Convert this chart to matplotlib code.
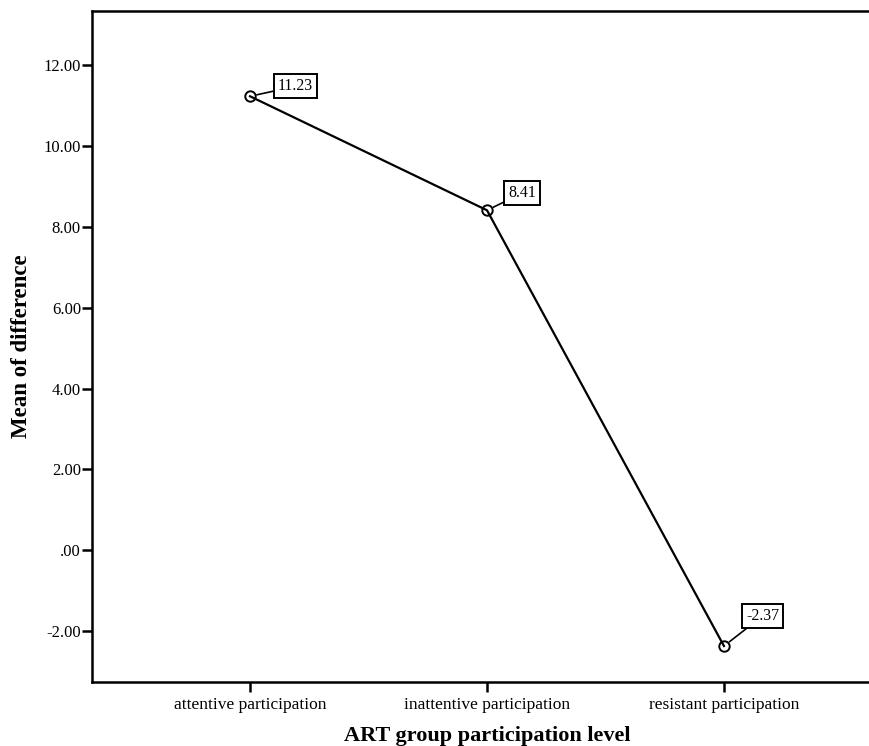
import matplotlib
matplotlib.use('Agg')
import matplotlib.pyplot as plt

levels = ['attentive participation', 'inattentive participation', 'resistant participation']
means = [11.23, 8.41, -2.37]
yticks = [-2, 0, 2, 4, 6, 8, 10, 12]
ytick_labels = ['-2.00', '.00', '2.00', '4.00', '6.00', '8.00', '10.00', '12.00']

plt.rcParams['font.family'] = ['Liberation Serif', 'DejaVu Serif']

W, H = 870, 746
fig = plt.figure(figsize=(W / 100, H / 100), dpi=100)
# axes box: left 92, top 11, bottom 682, right beyond the image (about 882)
ax = fig.add_axes([92 / W, 1 - 682 / H, (882 - 92) / W, (682 - 11) / H])

x = list(range(len(levels)))
ax.plot(x, means, color='black', lw=1.6, marker='o', ms=7.5, mfc='none', mec='black', mew=1.4)

# value labels in boxes, offsets in pixels from the marker
offsets = [(28, 10), (21, 17), (22, 30)]
for xi, m, off in zip(x, means, offsets):
    ax.annotate(f'{m:.2f}', xy=(xi, m), xytext=off, textcoords='offset pixels',
                ha='left', va='center', fontsize=11.5,
                bbox=dict(boxstyle='square,pad=0.25', fc='white', ec='black', lw=1.4),
                arrowprops=dict(arrowstyle='-', color='black', lw=1.2, shrinkA=0, shrinkB=5))

ax.set_xlim(-0.667, 2.667)
ax.set_ylim(-3.26, 13.34)
ax.set_xticks(x)
ax.set_xticklabels(levels, fontsize=12.5)
ax.set_yticks(yticks)
ax.set_yticklabels(ytick_labels, fontsize=12)
ax.tick_params(axis='both', direction='out', length=7, width=1.8, color='black')
ax.tick_params(axis='x', pad=4)
ax.tick_params(axis='y', pad=1)
for s in ax.spines.values():
    s.set_linewidth(1.8)

ax.set_xlabel('ART group participation level', fontsize=16, fontweight='bold', labelpad=9)
ax.set_ylabel('Mean of difference', fontsize=16.5, fontweight='bold', labelpad=8)

fig.savefig('out.png', dpi=100)
